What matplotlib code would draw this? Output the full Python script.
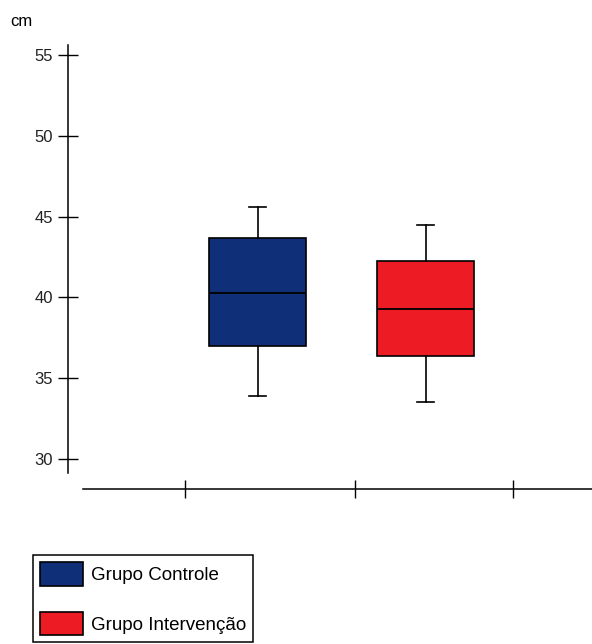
import matplotlib
matplotlib.use("Agg")
import matplotlib.pyplot as plt
from matplotlib.patches import Patch

# data
groups = ['Grupo Controle', 'Grupo Intervenção']
colors = ['#0f2f78', '#ed1c24']
whislo = [33.9, 33.5]
q1 = [37.0, 36.35]
med = [40.3, 39.25]
q3 = [43.65, 42.25]
whishi = [45.6, 44.5]
yticks = [30, 35, 40, 45, 50, 55]
xticks = [0.57, 1.58, 2.52]

plt.rcParams['font.family'] = ['Liberation Sans', 'DejaVu Sans']

fig = plt.figure(figsize=(5.92, 6.44), dpi=100)
ax = fig.add_axes([68 / 592, 155 / 644, 524 / 592, 444 / 644])

stats = []
for i in range(len(groups)):
    stats.append(dict(whislo=whislo[i], q1=q1[i], med=med[i], q3=q3[i],
                      whishi=whishi[i], fliers=[], label=groups[i]))

bp = ax.bxp(stats, positions=[1, 2], widths=0.577, capwidths=0.1,
            patch_artist=True, showfliers=False,
            boxprops=dict(edgecolor='black', linewidth=1.2),
            medianprops=dict(color='black', linewidth=1.3),
            whiskerprops=dict(color='black', linewidth=1.2),
            capprops=dict(color='black', linewidth=1.2))
for box, c in zip(bp['boxes'], colors):
    box.set_facecolor(c)

ax.set_xlim(-0.128, 2.991)
ax.set_ylim(28.14, 55.62)

for s in ['top', 'right']:
    ax.spines[s].set_visible(False)
ax.spines['left'].set_bounds(29.13, 55.62)
ax.spines['bottom'].set_bounds(-0.039, 2.99)
ax.spines['left'].set_linewidth(1.1)
ax.spines['bottom'].set_linewidth(1.1)

ax.set_yticks(yticks)
ax.set_yticklabels([str(t) for t in yticks], fontsize=12, color='#222222')
ax.set_xticks(xticks)
ax.set_xticklabels([])
ax.tick_params(axis='y', direction='inout', length=14, width=1, pad=4)
ax.tick_params(axis='x', direction='inout', length=13, width=1)

fig.text(10 / 592, 1 - 22 / 644, 'cm', fontsize=12, va='center', ha='left')

handles = [Patch(facecolor=c, edgecolor='black', linewidth=1.2) for c in colors]
fs = 13.5
leg = fig.legend(handles, groups, loc='upper left',
                 bbox_to_anchor=(33 / 592, 1 - 555 / 644), borderaxespad=0,
                 fontsize=fs, handlelength=2.3, handleheight=1.55,
                 labelspacing=1.4, borderpad=0.38, handletextpad=0.4,
                 fancybox=False, framealpha=1, edgecolor='black')
leg.get_frame().set_linewidth(1.1)

fig.savefig('out.png', dpi=100)
